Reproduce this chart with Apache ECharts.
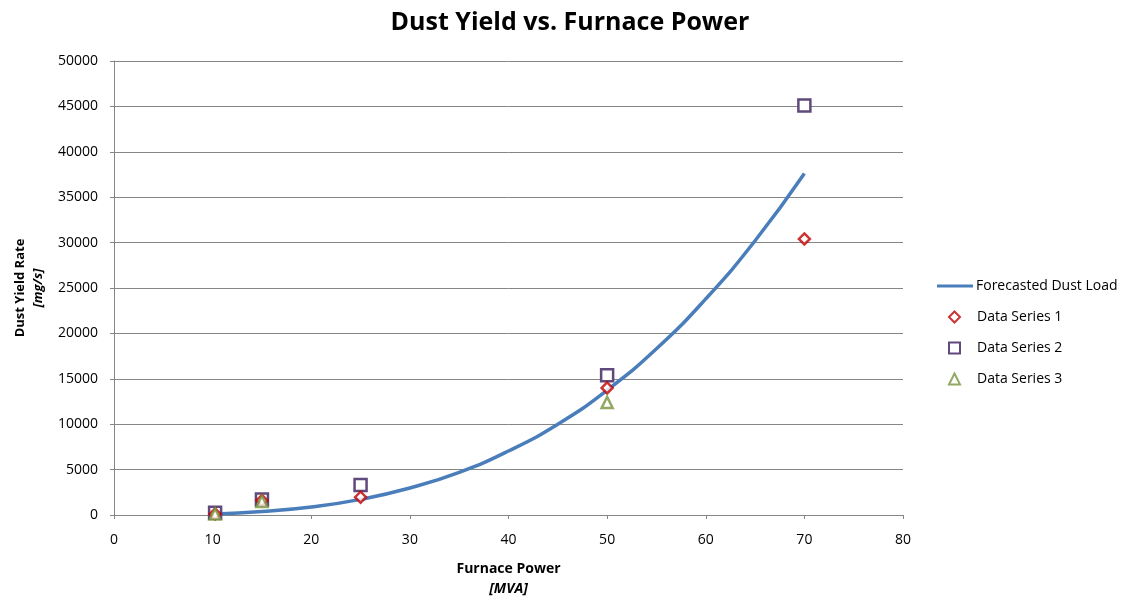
<!DOCTYPE html>
<html>
<head>
<meta charset="utf-8">
<script src="https://cdn.jsdelivr.net/npm/echarts@6/dist/echarts.min.js"></script>
<style>html,body{margin:0;padding:0;background:#fff}#c{width:1131px;height:601px}</style>
</head>
<body>
<div id="c"></div>
<script>
const forecastX = [10.25, 15, 20, 25, 30, 35, 40, 45, 50, 55, 60, 65, 70];
const forecastY = [120, 380, 880, 1720, 2980, 4700, 7050, 10000, 13750, 18300, 23800, 30200, 37600];
const series1X = [10.25, 15, 25, 50, 70];
const series1Y = [120, 1600, 1960, 14000, 30400];
const series2X = [10.25, 15, 25, 50, 70];
const series2Y = [250, 1700, 3300, 15400, 45100];
const series3X = [10.25, 15, 50];
const series3Y = [100, 1500, 12400];
const xTicks = [0, 10, 20, 30, 40, 50, 60, 70, 80];
const yTicks = [0, 5000, 10000, 15000, 20000, 25000, 30000, 35000, 40000, 45000, 50000];

const zip = (xs, ys) => xs.map((x, i) => [x, ys[i]]);
const font = '"Open Sans", "Liberation Sans", Arial, sans-serif';

const chart = echarts.init(document.getElementById('c'), null, {renderer: 'canvas'});
chart.setOption({
  animation: false,
  backgroundColor: '#fff',
  textStyle: {fontFamily: font},
  title: {
    text: 'Dust Yield vs. Furnace Power',
    left: 565, top: 5, textAlign: 'center',
    textStyle: {fontSize: 25, fontWeight: 'bold', color: '#000', fontFamily: font}
  },
  grid: {left: 114, right: 228, top: 61, bottom: 80, containLabel: false},
  xAxis: {
    type: 'value', min: xTicks[0], max: xTicks[xTicks.length - 1], interval: 10,
    name: '{a|Furnace Power}\n{b|[MVA]}',
    nameLocation: 'middle', nameGap: 44,
    nameTextStyle: {rich: {
      a: {fontSize: 14, fontWeight: 'bold', color: '#000', lineHeight: 20, fontFamily: font},
      b: {fontSize: 14, fontStyle: 'italic', fontWeight: 'bold', color: '#000', lineHeight: 20, fontFamily: font}
    }},
    axisLine: {show: true, lineStyle: {color: '#868686'}},
    axisTick: {show: true, length: 4, lineStyle: {color: '#868686'}},
    axisLabel: {fontSize: 14, color: '#000', margin: 18, fontFamily: font},
    splitLine: {show: false}
  },
  yAxis: {
    type: 'value', min: yTicks[0], max: yTicks[yTicks.length - 1], interval: 5000,
    name: '{a|Dust Yield Rate}\n{b|[mg/s]}',
    nameLocation: 'middle', nameGap: 67, nameRotate: 90,
    nameTextStyle: {rich: {
      a: {fontSize: 13, fontWeight: 'bold', color: '#000', lineHeight: 18, fontFamily: font},
      b: {fontSize: 13, fontStyle: 'italic', fontWeight: 'bold', color: '#000', lineHeight: 18, fontFamily: font}
    }},
    axisLine: {show: true, lineStyle: {color: '#868686'}},
    axisTick: {show: true, length: 4, inside: false, lineStyle: {color: '#868686'}},
    axisLabel: {fontSize: 14, color: '#000', margin: 16, fontFamily: font, formatter: v => String(v)},
    splitLine: {show: true, lineStyle: {color: '#868686', width: 1}}
  },
  legend: [
    {
      orient: 'vertical', left: 937, top: 279, padding: 0,
      itemWidth: 36, itemHeight: 3, itemGap: 12,
      textStyle: {fontSize: 14, color: '#000', fontFamily: font, padding: [0, 0, 0, -2]},
      data: [{name: 'Forecasted Dust Load', icon: 'rect', itemStyle: {color: '#4A7EBB'}}]
    },
    {
      orient: 'vertical', left: 948, top: 310, padding: 0,
      itemWidth: 11, itemHeight: 11, itemGap: 17,
      textStyle: {fontSize: 14, color: '#000', fontFamily: font, padding: [0, 0, 0, 12]},
      data: ['Data Series 1', 'Data Series 2', 'Data Series 3']
    }
  ],
  series: [
    {
      name: 'Forecasted Dust Load', type: 'line', smooth: true, showSymbol: false,
      data: zip(forecastX, forecastY),
      lineStyle: {color: '#4A7EBB', width: 3.5},
      itemStyle: {color: '#4A7EBB'}, z: 2
    },
    {
      name: 'Data Series 1', type: 'scatter', symbol: 'diamond', symbolSize: 11,
      data: zip(series1X, series1Y),
      itemStyle: {color: '#fff', borderColor: '#C00000', borderWidth: 2.5}, z: 4
    },
    {
      name: 'Data Series 2', type: 'scatter', symbol: 'rect', symbolSize: 12,
      data: zip(series2X, series2Y),
      itemStyle: {color: '#fff', borderColor: '#604A7B', borderWidth: 2.5, opacity: 1}, z: 3
    },
    {
      name: 'Data Series 3', type: 'scatter', symbol: 'triangle', symbolSize: 11,
      data: zip(series3X, series3Y),
      itemStyle: {color: '#fff', borderColor: '#77933C', borderWidth: 2.5}, z: 5
    }
  ]
});
</script>
</body>
</html>
